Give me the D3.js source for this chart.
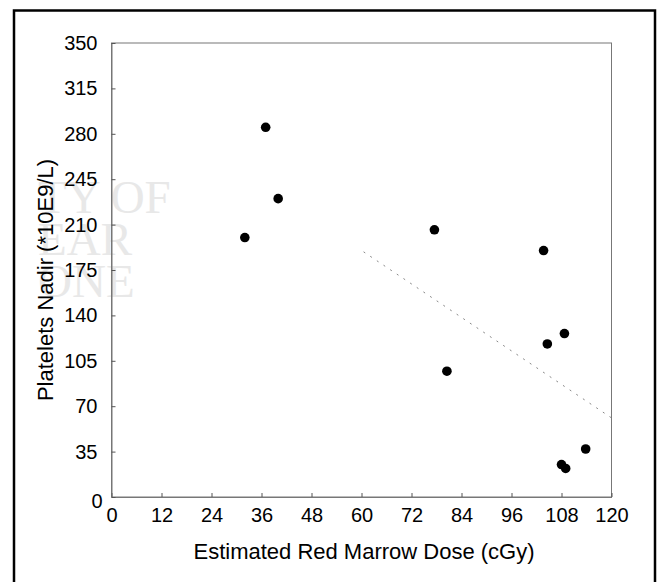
<!DOCTYPE html>
<html>
<head>
<meta charset="utf-8">
<script src="https://cdnjs.cloudflare.com/ajax/libs/d3/7.8.5/d3.min.js"></script>
<style>
  body { margin: 0; background: #fff; }
  svg { display: block; font-family: "Liberation Sans", Arial, Helvetica, sans-serif; }
</style>
</head>
<body>
<div id="chart"></div>
<script>
// estimated red marrow dose (cGy) vs platelet nadir (*10E9/L)
const doses = [32, 37, 40, 77.5, 80.5, 103.7, 104.6, 108.7, 108, 109, 113.8];
const platelets = [200, 285, 230, 206, 97, 190, 118, 126, 25, 22, 37];

// regression line end points
const fitX = [60.5, 120];
const fitY = [189, 61];

const xTicks = [0, 12, 24, 36, 48, 60, 72, 84, 96, 108, 120];
const yTicks = [0, 35, 70, 105, 140, 175, 210, 245, 280, 315, 350];

const xTitle = 'Estimated Red Marrow Dose (cGy)';
const yTitle = 'Platelets Nadir (*10E9/L)';
const watermark = ['TY OF', 'EAR', 'ONE'];

const width = 660;
const height = 582;
const plotLeft = 111.5, plotRight = 611.5, plotTop = 43, plotBottom = 497;

const xScale = d3.scaleLinear()
    .domain([0, 120])
    .range([plotLeft, plotRight])

const yScale = d3.scaleLinear()
    .domain([0, 350])
    .range([plotBottom, plotTop])

let svg = d3.select('#chart')
    .append('svg')
    .attr('width', width)
    .attr('height', height);

// faint scan watermark behind the plot
svg.append('g')
    .selectAll('text')
    .data(watermark)
    .enter()
    .append('text')
    .attr('x', 38)
    .attr('y', (d, i) => 213 + i * 42)
    .attr('font-family', '"Liberation Serif", "Times New Roman", serif')
    .attr('font-size', 47)
    .attr('fill', '#e8e8e8')
    .text(d => d)

// outer frame
svg.append('rect')
    .attr('x', 14)
    .attr('y', 10.5)
    .attr('width', 641)
    .attr('height', 580)
    .attr('fill', 'none')
    .attr('stroke', '#000')
    .attr('stroke-width', 2.5)

// plot frame
svg.append('rect')
    .attr('x', plotLeft)
    .attr('y', plotTop)
    .attr('width', plotRight - plotLeft)
    .attr('height', plotBottom - plotTop)
    .attr('fill', 'none')
    .attr('stroke', '#777')
    .attr('stroke-width', 1)

// x axis
let xAxis = svg.append('g')
    .attr('transform', `translate(0,${plotBottom})`)
    .call(d3.axisBottom(xScale).tickValues(xTicks).tickSize(-4).tickSizeOuter(0).tickPadding(11))
xAxis.select('.domain').attr('stroke', '#777')
xAxis.selectAll('.tick line').attr('stroke', '#555')
xAxis.selectAll('.tick text')
    .attr('font-size', 20)
    .attr('fill', '#000')
xAxis.attr('font-family', null)

// y axis
let yAxis = svg.append('g')
    .attr('transform', `translate(${plotLeft},0)`)
    .call(d3.axisLeft(yScale).tickValues(yTicks).tickSize(-4).tickSizeOuter(0).tickPadding(14))
yAxis.select('.domain').attr('stroke', '#777')
yAxis.selectAll('.tick line').attr('stroke', '#555')
yAxis.selectAll('.tick text')
    .attr('font-size', 20)
    .attr('fill', '#000')
yAxis.attr('font-family', null)
// the zero label sits a little lower and closer to the axis
yAxis.selectAll('.tick text')
    .filter(d => d === 0)
    .attr('x', -9)
    .attr('dy', '0.5em')

// regression line
svg.append('line')
    .attr('x1', xScale(fitX[0]))
    .attr('y1', yScale(fitY[0]))
    .attr('x2', xScale(fitX[1]))
    .attr('y2', yScale(fitY[1]))
    .attr('stroke', '#888')
    .attr('stroke-width', 1)
    .attr('stroke-dasharray', '2,6')

// points
svg.append('g')
    .selectAll('circle')
    .data(doses)
    .enter()
    .append('circle')
    .attr('cx', (d) => xScale(d))
    .attr('cy', (d, i) => yScale(platelets[i]))
    .attr('r', 4.8)
    .attr('fill', '#000')

// axis titles
svg.append('text')
    .attr('x', 364)
    .attr('y', 559)
    .attr('text-anchor', 'middle')
    .attr('font-size', 22)
    .text(xTitle)

svg.append('text')
    .attr('transform', 'translate(53,280) rotate(-90)')
    .attr('text-anchor', 'middle')
    .attr('font-size', 22)
    .text(yTitle)
</script>
</body>
</html>
